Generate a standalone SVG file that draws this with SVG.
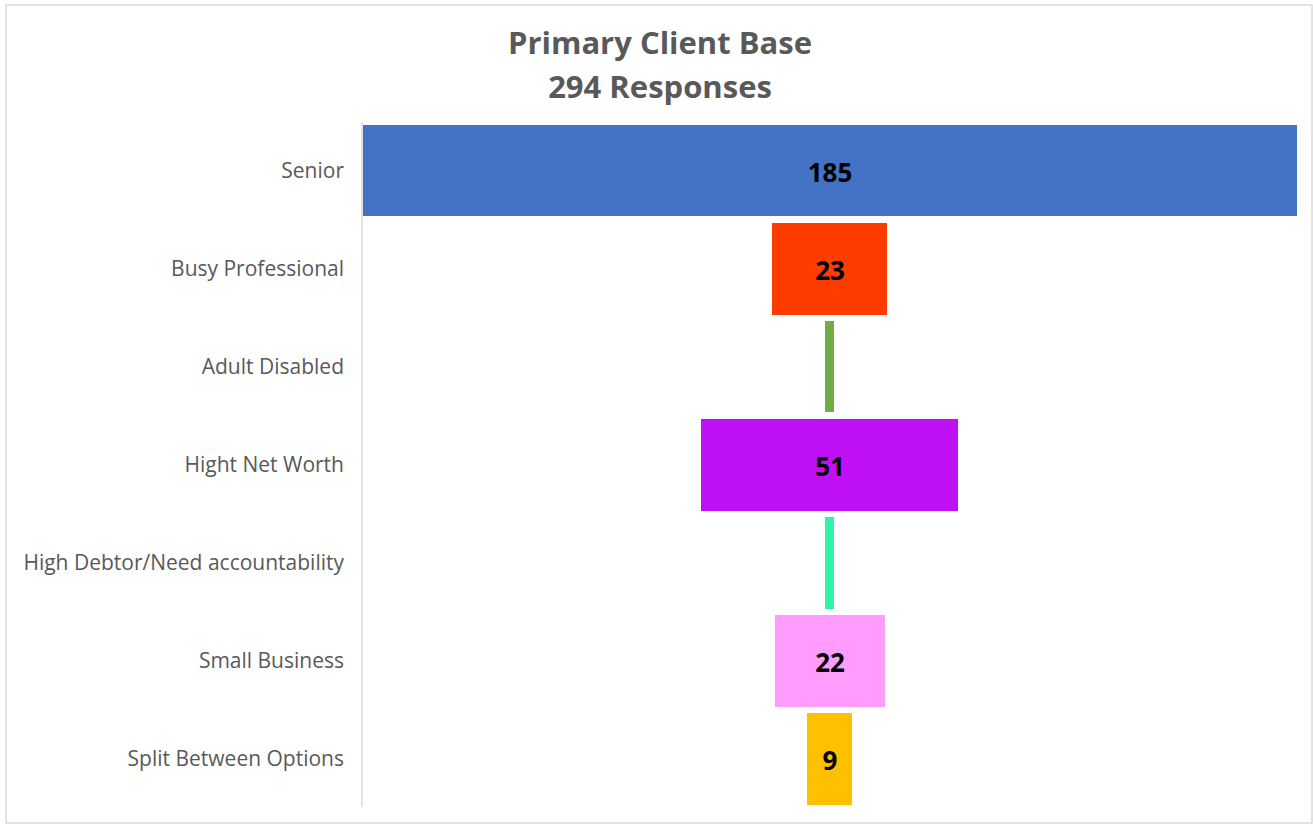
<svg xmlns="http://www.w3.org/2000/svg" width="1313" height="825" viewBox="0 0 1313 825">
<style>
.frame{fill:#ffffff;stroke:#d9d9d9;stroke-width:1.5}
.title{font-family:"Open Sans","Liberation Sans",sans-serif;font-weight:bold;font-size:31px;fill:#595959;text-anchor:middle}
.cat{font-family:"Open Sans","Liberation Sans",sans-serif;font-size:21px;fill:#595959;text-anchor:end}
.val{font-family:"Open Sans","Liberation Sans",sans-serif;font-weight:bold;font-size:26px;fill:#000000;text-anchor:middle}
.axis{stroke:#d9d9d9;stroke-width:1.5}
</style>
<rect class="frame" x="6" y="5" width="1306" height="818"/>
<g id="title">
<text class="title" x="660" y="54">Primary Client Base</text>
<text class="title" x="660" y="98">294 Responses</text>
</g>
<g id="axis"><line class="axis" x1="362" y1="122" x2="362" y2="807"/></g>
<g id="labels">
<text class="cat" x="344" y="178">Senior</text>
<text class="cat" x="344" y="276">Busy Professional</text>
<text class="cat" x="344" y="374">Adult Disabled</text>
<text class="cat" x="344" y="472">Hight Net Worth</text>
<text class="cat" x="344" y="570">High Debtor/Need accountability</text>
<text class="cat" x="344" y="668">Small Business</text>
<text class="cat" x="344" y="766">Split Between Options</text>
</g>
<g id="senior"><rect x="363" y="125" width="934" height="91" fill="#4472c4"/><text class="val" x="830" y="182">185</text></g>
<g id="busy"><rect x="772" y="223" width="115" height="92" fill="#ff3c00"/><text class="val" x="830" y="280">23</text></g>
<g id="adult"><rect x="825" y="321" width="9" height="91" fill="#70ad47"/></g>
<g id="hnw"><rect x="701" y="419" width="257" height="92" fill="#c010f5"/><text class="val" x="830" y="476">51</text></g>
<g id="debtor"><rect x="825" y="517" width="9" height="92" fill="#2ef5a8"/></g>
<g id="small"><rect x="775" y="615" width="110" height="92" fill="#ff9cfc"/><text class="val" x="830" y="672">22</text></g>
<g id="split"><rect x="807" y="713" width="45" height="92" fill="#ffc000"/><text class="val" x="830" y="770">9</text></g>
<g id="connectors"/>
</svg>
